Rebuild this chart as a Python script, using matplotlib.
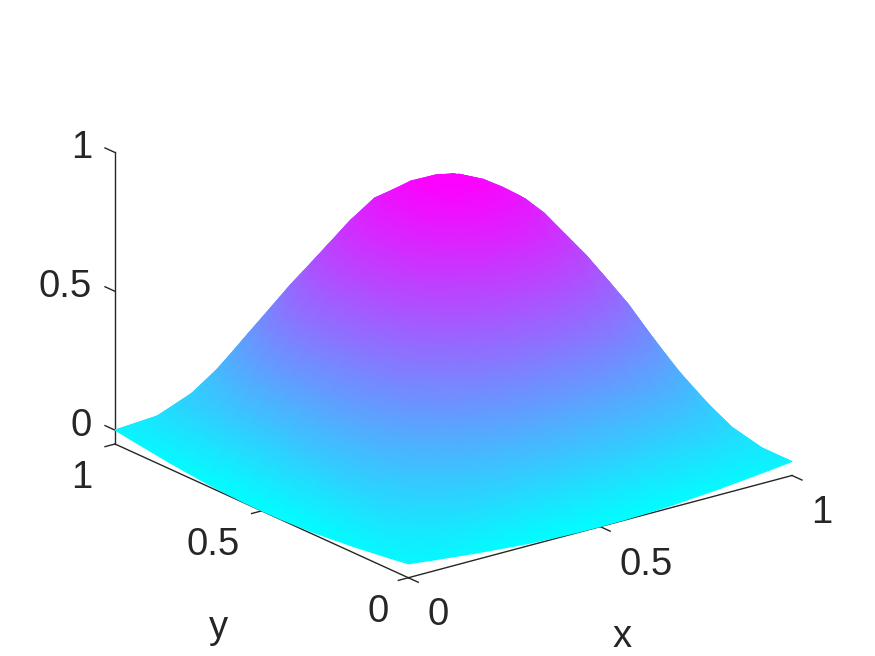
import numpy as np
import matplotlib
matplotlib.use('Agg')
import matplotlib.pyplot as plt
from matplotlib.tri import Triangulation
from mpl_toolkits.mplot3d import proj3d

# values, on a 17 x 17 grid over the unit square
x_grid = [k / 16 for k in range(17)]
y_grid = [k / 16 for k in range(17)]
z_rows = [
    [0.000, -0.010, -0.019, -0.028, -0.035, -0.042, -0.046, -0.049, -0.050, -0.049, -0.046, -0.042, -0.035, -0.028, -0.019, -0.010, 0.000],
    [-0.010, 0.022, 0.052, 0.080, 0.104, 0.124, 0.139, 0.148, 0.151, 0.148, 0.142, 0.130, 0.114, 0.100, 0.082, 0.062, -0.010],
    [-0.019, 0.052, 0.120, 0.183, 0.238, 0.283, 0.317, 0.338, 0.344, 0.340, 0.322, 0.293, 0.258, 0.213, 0.155, 0.088, -0.019],
    [-0.028, 0.080, 0.183, 0.278, 0.361, 0.430, 0.481, 0.512, 0.523, 0.516, 0.491, 0.448, 0.391, 0.323, 0.230, 0.120, -0.028],
    [-0.035, 0.104, 0.238, 0.361, 0.469, 0.558, 0.624, 0.665, 0.678, 0.670, 0.636, 0.583, 0.509, 0.416, 0.283, 0.154, -0.035],
    [-0.042, 0.124, 0.283, 0.430, 0.558, 0.663, 0.742, 0.790, 0.806, 0.795, 0.754, 0.688, 0.608, 0.484, 0.343, 0.164, -0.042],
    [-0.046, 0.139, 0.317, 0.481, 0.624, 0.742, 0.830, 0.884, 0.902, 0.887, 0.838, 0.760, 0.654, 0.531, 0.367, 0.169, -0.046],
    [-0.049, 0.148, 0.338, 0.512, 0.665, 0.790, 0.884, 0.941, 0.950, 0.941, 0.884, 0.800, 0.690, 0.542, 0.368, 0.168, -0.049],
    [-0.050, 0.151, 0.344, 0.523, 0.678, 0.806, 0.902, 0.960, 0.980, 0.940, 0.887, 0.820, 0.700, 0.540, 0.344, 0.151, -0.050],
    [-0.049, 0.154, 0.349, 0.526, 0.680, 0.804, 0.895, 0.947, 0.945, 0.925, 0.884, 0.790, 0.665, 0.512, 0.338, 0.148, -0.049],
    [-0.046, 0.150, 0.337, 0.507, 0.652, 0.768, 0.855, 0.885, 0.895, 0.884, 0.830, 0.742, 0.624, 0.481, 0.317, 0.139, -0.046],
    [-0.042, 0.138, 0.309, 0.464, 0.595, 0.697, 0.768, 0.825, 0.806, 0.790, 0.742, 0.663, 0.558, 0.430, 0.283, 0.124, -0.042],
    [-0.035, 0.125, 0.266, 0.398, 0.520, 0.595, 0.665, 0.680, 0.678, 0.665, 0.624, 0.558, 0.469, 0.361, 0.238, 0.104, -0.035],
    [-0.028, 0.120, 0.209, 0.337, 0.415, 0.496, 0.530, 0.526, 0.523, 0.512, 0.481, 0.430, 0.361, 0.278, 0.183, 0.080, -0.028],
    [-0.019, 0.105, 0.165, 0.232, 0.313, 0.340, 0.340, 0.349, 0.344, 0.338, 0.317, 0.283, 0.238, 0.183, 0.120, 0.052, -0.019],
    [-0.010, 0.058, 0.081, 0.130, 0.150, 0.150, 0.150, 0.154, 0.151, 0.148, 0.139, 0.124, 0.104, 0.080, 0.052, 0.022, -0.010],
    [0.000, -0.010, -0.019, -0.028, -0.035, -0.042, -0.046, -0.049, -0.050, -0.049, -0.046, -0.042, -0.035, -0.028, -0.019, -0.010, 0.000],
]
tick_values = [0, 0.5, 1]
tick_labels = ['0', '0.5', '1']

W, H = 875, 656
ink = '#262626'
elev, azim = 20.4, -127.4
z_box = 0.644
z_low = -0.05

plt.rcParams['font.family'] = ['Liberation Sans', 'DejaVu Sans']
plt.rcParams['font.size'] = 27.5

fig = plt.figure(figsize=(W/100, H/100), dpi=100)
ax = fig.add_axes([0.1, 0.1, 0.75, 0.75*W/H], projection='3d', proj_type='ortho')
ax.view_init(elev=elev, azim=azim)
ax.set_box_aspect((1, 1, z_box), zoom=1)
ax.set_xlim(0, 1, view_margin=0)
ax.set_ylim(0, 1, view_margin=0)
ax.set_zlim(z_low, 1, view_margin=0)
ax.set_axis_off()

# axis lines and ticks, only the three edges the reference shows
line = dict(color=ink, lw=1.0)
ax.plot([0, 1], [0, 0], [z_low, z_low], **line)
ax.plot([0, 0], [0, 1], [z_low, z_low], **line)
ax.plot([0, 0], [1, 1], [z_low, 1], **line)
for t in tick_values:
    ax.plot([t, t], [0, -0.034], [z_low, z_low], **line)
    ax.plot([0, -0.026], [t, t], [z_low, z_low], **line)
    ax.plot([0, 0], [1, 1.034], [t, t], **line)


def to_pixels(xs, ys, zs):
    px, py, _ = proj3d.proj_transform(np.asarray(xs, float), np.asarray(ys, float), np.asarray(zs, float), ax.get_proj())
    return ax.transData.transform(np.column_stack([px, py]))


# fit the box to the reference corners: x=0,y=1 at (115,444) and x=1,y=0 at (792,475)
for i in range(2):
    fig.canvas.draw()
    c = to_pixels([0, 1], [1, 0], [z_low, z_low])
    scale = (792 - 115) / (c[1, 0] - c[0, 0])
    pos = ax.get_position()
    side = pos.width * W * scale
    dx = 115 - (c[0, 0] - pos.x0 * W) * scale
    dy = (H - 444) - (c[0, 1] - pos.y0 * H) * scale
    ax.set_position([dx / W, dy / H, side / W, side / H])
fig.canvas.draw()

# smooth colours need gouraud triangles, so the surface is drawn on a pixel overlay
X, Y = np.meshgrid(x_grid, y_grid)
Z = np.array(z_rows)
pts = to_pixels(X.ravel(), Y.ravel(), Z.ravel())
n = len(x_grid)
tris = []
for j in range(n - 1):
    for i in range(n - 1):
        a = j * n + i
        tris.append([a, a + 1, a + n])
        tris.append([a + 1, a + n + 1, a + n])
tris = np.array(tris)
# back to front
az = np.radians(azim)
el = np.radians(elev)
depth = np.cos(el) * (np.cos(az) * X.ravel() + np.sin(az) * Y.ravel()) + np.sin(el) * z_box * Z.ravel() / 1.05
tris = tris[np.argsort(depth[tris].mean(axis=1))]

ax2 = fig.add_axes([0, 0, 1, 1])
ax2.set_xlim(0, W)
ax2.set_ylim(0, H)
ax2.axis('off')
ax2.patch.set_visible(False)
ax2.tripcolor(Triangulation(pts[:, 0], pts[:, 1], tris), Z.ravel(), shading='gouraud', cmap='cool',
              vmin=Z.min(), vmax=Z.max())

# tick labels, offsets in pixels from each tick's foot
x_off = [(30, -47), (46, -48.5), (30, -48)]
y_off = [(-30.5, -44.5), (-48.5, -44), (-33.5, -44)]
z_off = [(-23, -6), (-23, -5.3), (-23, -6)]
for t, lab, ox, oy, oz in zip(tick_values, tick_labels, x_off, y_off, z_off):
    p = to_pixels([t], [0], [z_low])[0]
    ax2.text(p[0] + ox[0], p[1] + ox[1], lab, color=ink, ha='center', va='baseline')
    p = to_pixels([0], [t], [z_low])[0]
    ax2.text(p[0] + oy[0], p[1] + oy[1], lab, color=ink, ha='center', va='baseline')
    p = to_pixels([0], [1], [t])[0]
    ax2.text(p[0] + oz[0], p[1] + oz[1], lab, color=ink, ha='right', va='baseline')
ax2.text(622, H - 647, 'x', color=ink, ha='center', va='baseline')
ax2.text(218, H - 638, 'y', color=ink, ha='center', va='baseline')

fig.savefig('out.png', dpi=100)
